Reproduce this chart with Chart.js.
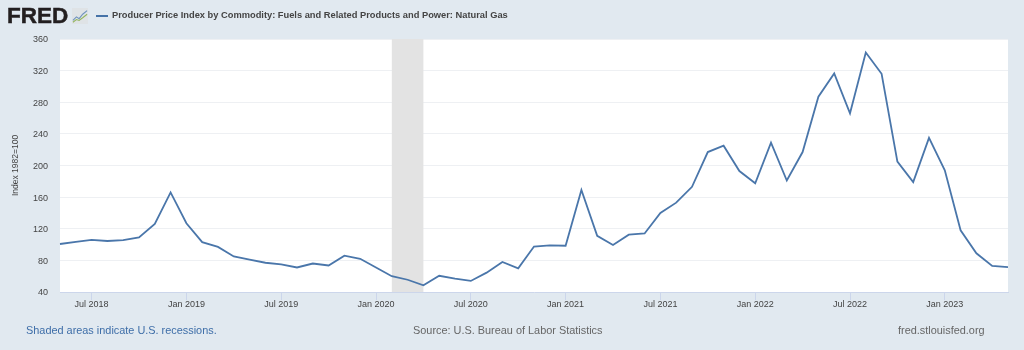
<!DOCTYPE html>
<html><head><meta charset="utf-8">
<script src="https://cdn.jsdelivr.net/npm/chart.js@4"></script>
<style>
html,body{margin:0;padding:0;background:#e1e9f0;width:1024px;height:350px;overflow:hidden;font-family:"Liberation Sans",Arial,sans-serif}
#c{position:absolute;left:0;top:0}
.t{position:absolute;white-space:nowrap}
#logo{left:7px;top:4px;font-size:22.5px;font-weight:bold;color:#231f20;-webkit-text-stroke:.5px #231f20;line-height:24px}
#icon{position:absolute;left:72px;top:8px}
#key{position:absolute;left:96px;top:15px;width:12px;height:2px;background:#4572a7}
#title{left:112px;top:9px;font-size:9.3px;font-weight:bold;color:#444;line-height:13px}
.foot{top:323px;font-size:10.9px;line-height:15px;color:#666}
</style></head><body>
<canvas id="c" width="1024" height="350"></canvas>
<div class="t" id="logo">FRED</div>
<svg id="icon" width="16" height="16" viewBox="0 0 18 18"><rect width="18" height="18" fill="#dfe3e6"/><polyline points="1,14 5,10 8,12 12,7 17,3" fill="none" stroke="#6f93bd" stroke-width="1.2"/><polyline points="1,16 5,13 8,14 12,11 17,7" fill="none" stroke="#93b55e" stroke-width="1.2"/></svg>
<div id="key"></div>
<div class="t" id="title">Producer Price Index by Commodity: Fuels and Related Products and Power: Natural Gas</div>
<div class="t foot" style="left:26px;color:#3e6ea8">Shaded areas indicate U.S. recessions.</div>
<div class="t foot" style="left:413px">Source: U.S. Bureau of Labor Statistics</div>
<div class="t foot" style="left:898px">fred.stlouisfed.org</div>
<script>
const months = ["May 2018","Jun 2018","Jul 2018","Aug 2018","Sep 2018","Oct 2018","Nov 2018","Dec 2018",
"Jan 2019","Feb 2019","Mar 2019","Apr 2019","May 2019","Jun 2019","Jul 2019","Aug 2019","Sep 2019","Oct 2019","Nov 2019","Dec 2019",
"Jan 2020","Feb 2020","Mar 2020","Apr 2020","May 2020","Jun 2020","Jul 2020","Aug 2020","Sep 2020","Oct 2020","Nov 2020","Dec 2020",
"Jan 2021","Feb 2021","Mar 2021","Apr 2021","May 2021","Jun 2021","Jul 2021","Aug 2021","Sep 2021","Oct 2021","Nov 2021","Dec 2021",
"Jan 2022","Feb 2022","Mar 2022","Apr 2022","May 2022","Jun 2022","Jul 2022","Aug 2022","Sep 2022","Oct 2022","Nov 2022","Dec 2022",
"Jan 2023","Feb 2023","Mar 2023","Apr 2023","May 2023"];
const ppiValues = [100.7,103.5,106,104.5,105.5,109,126,166,
127,103,97,85,81,77,75,71,76,73.5,86,82,
71,60,55.5,48.5,60.5,57,54,64.5,78,70,97.5,99,
98.5,169,111,99.5,112.5,114,140,153,173,217,225,193,
177.5,229,181,217,287,316.5,266,343,316,205,179,235,
194,118,89,73,71.5];
const recession = ["Feb 2020","Apr 2020"];
const yMin = 40, yMax = 360, yStep = 40;
const seriesName = "Producer Price Index by Commodity: Fuels and Related Products and Power: Natural Gas";

const isTick = l => /^(Jan|Jul) /.test(l);
const backdrop = {
  id:"backdrop",
  beforeDraw(ch){
    const {ctx,chartArea:a} = ch;
    ctx.save();
    ctx.fillStyle="#fff";
    ctx.fillRect(a.left,a.top,a.right-a.left,a.bottom-a.top);
    ctx.restore();
  },
  beforeDatasetsDraw(ch){
    const {ctx,chartArea:a,scales:{x}} = ch;
    const x0=x.getPixelForValue(months.indexOf(recession[0])), x1=x.getPixelForValue(months.indexOf(recession[1]));
    ctx.save();
    ctx.fillStyle="#e3e3e3";
    ctx.fillRect(x0,a.top,x1-x0,a.bottom-a.top);
    ctx.restore();
  }
};
new Chart(document.getElementById("c"),{
  type:"line",
  data:{labels:months,datasets:[{label:seriesName,data:ppiValues,borderColor:"#4a76aa",borderWidth:1.8,pointRadius:0,tension:0,fill:false,borderJoinStyle:"miter"}]},
  plugins:[backdrop],
  options:{
    responsive:false,animation:false,devicePixelRatio:1,
    layout:{padding:{left:11,right:16,top:39,bottom:0}},
    plugins:{legend:{display:false},title:{display:false},tooltip:{enabled:false}},
    scales:{
      x:{type:"category",offset:false,
        afterFit(s){s.height=58;},
        grid:{drawOnChartArea:false,drawTicks:true,tickLength:8,
          color:c=>"rgba(0,0,0,0)",
          tickColor:c=>{const t=c.tick;return t&&t.label?"#ccd6eb":"rgba(0,0,0,0)";}},
        border:{color:"#ccd6eb",width:1},
        ticks:{autoSkip:false,maxRotation:0,minRotation:0,padding:-1,color:"#444",font:{family:"'Liberation Sans'",size:9},
          callback(v){const l=this.getLabelForValue(v);return isTick(l)?l:"";}}
      },
      y:{min:yMin,max:yMax,
        afterFit(s){s.width=49;},
        grid:{color:"#eef0f3",lineWidth:1,drawTicks:false},
        border:{display:false},
        ticks:{stepSize:yStep,padding:12,labelOffset:1,color:"#444",font:{family:"'Liberation Sans'",size:9}},
        title:{display:true,text:"Index 1982=100",color:"#444",font:{family:"'Liberation Sans'",size:8.5},padding:{top:0,bottom:0}}
      }
    }
  }
});
</script>
</body></html>
